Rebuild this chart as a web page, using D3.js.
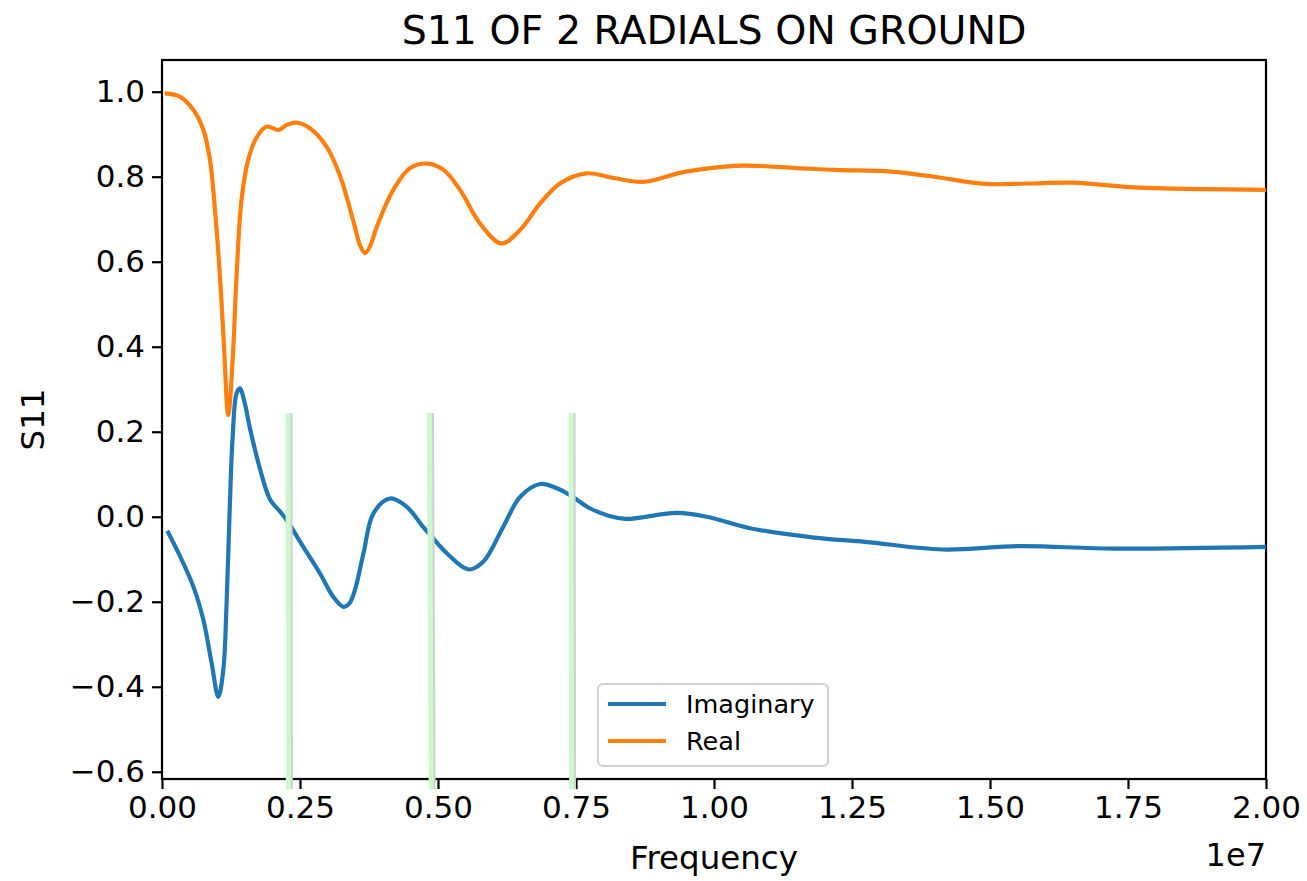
<!DOCTYPE html>
<html><head><meta charset="utf-8">
<script src="https://cdn.jsdelivr.net/npm/d3@7"></script>
<style>body{margin:0;background:#fff;} text{font-family:"DejaVu Sans",sans-serif;fill:#000;}</style>
</head><body>
<svg id="chart" width="1307" height="881"></svg>
<script>
// frequencies in units of 1e7 Hz (as on the axis)
const realFreq = [0.005,0.033,0.057,0.075,0.087,0.096,0.105,0.112,0.120,0.128,0.135,0.144,0.156,0.172,0.190,0.211,0.226,0.244,0.268,0.298,0.322,0.347,0.359,0.368,0.378,0.389,0.419,0.449,0.481,0.510,0.540,0.576,0.615,0.649,0.685,0.721,0.769,0.818,0.871,0.949,1.049,1.143,1.220,1.321,1.399,1.492,1.569,1.647,1.763,1.880,2.0];
const realVals = [0.996,0.988,0.957,0.910,0.839,0.722,0.565,0.409,0.239,0.369,0.565,0.745,0.839,0.894,0.918,0.910,0.922,0.927,0.914,0.871,0.804,0.694,0.638,0.620,0.640,0.682,0.769,0.820,0.831,0.816,0.769,0.690,0.643,0.675,0.737,0.784,0.808,0.797,0.788,0.812,0.826,0.821,0.816,0.812,0.800,0.783,0.784,0.786,0.775,0.771,0.769];
const imagFreq = [0.0096,0.033,0.057,0.075,0.090,0.102,0.111,0.117,0.123,0.128,0.135,0.141,0.150,0.159,0.178,0.196,0.214,0.229,0.256,0.286,0.310,0.329,0.340,0.350,0.365,0.383,0.413,0.443,0.473,0.486,0.516,0.555,0.582,0.618,0.649,0.685,0.715,0.739,0.775,0.810,0.840,0.933,0.987,1.065,1.181,1.274,1.414,1.554,1.724,2.0];
const imagVals = [-0.033,-0.094,-0.165,-0.243,-0.345,-0.424,-0.361,-0.204,0.032,0.188,0.290,0.302,0.267,0.210,0.110,0.040,0.012,-0.014,-0.071,-0.133,-0.188,-0.212,-0.203,-0.170,-0.086,0.008,0.043,0.024,-0.024,-0.043,-0.086,-0.124,-0.106,-0.024,0.047,0.077,0.067,0.051,0.020,0.002,-0.005,0.009,0.000,-0.027,-0.049,-0.059,-0.077,-0.069,-0.075,-0.071];
const markerFreqTop = [0.2283,0.4845,0.741];
const markerFreqBottom = [0.2290,0.4875,0.742];
const markerTop = 0.244, markerBottom = -0.641;
const xTicks = [0,0.25,0.5,0.75,1.0,1.25,1.5,1.75,2.0];
const yTicks = [-0.6,-0.4,-0.2,0.0,0.2,0.4,0.6,0.8,1.0];
const seriesNames = ["Imaginary","Real"];
const seriesColors = ["#1f77b4","#ff7f0e"];

const svg = d3.select("#chart");
const L=162, R=1266, T=60, B=779;
const x = d3.scaleLinear().domain([0,2]).range([L,R]);
const y = d3.scaleLinear().domain([-0.617,1.0746]).range([B,T]);

// axes
const xAxis = d3.axisBottom(x).tickValues(xTicks).tickFormat(d3.format(".2f")).tickSize(10).tickPadding(7);
const yAxis = d3.axisLeft(y).tickValues(yTicks).tickFormat(d=>d3.format(".1f")(d).replace("-","\u2212")).tickSize(10).tickPadding(7);
const gx = svg.append("g").attr("transform",`translate(0,${B})`).call(xAxis);
const gy = svg.append("g").attr("transform",`translate(${L},0)`).call(yAxis);
[gx,gy].forEach(g=>{
  g.select(".domain").remove();
  g.selectAll(".tick line").attr("stroke","#000").attr("stroke-width",2.2);
  g.selectAll(".tick text").attr("font-size",31).attr("font-family","DejaVu Sans").attr("fill","#000");
});

// frame
svg.append("rect").attr("x",L).attr("y",T).attr("width",R-L).attr("height",B-T)
  .attr("fill","none").attr("stroke","#000").attr("stroke-width",2.2);

const line = d3.line().x(d=>x(d[0])).y(d=>y(d[1])).curve(d3.curveCatmullRom.alpha(0.5));
const imag = imagFreq.map((f,i)=>[f,imagVals[i]]);
const real = realFreq.map((f,i)=>[f,realVals[i]]);
svg.append("path").datum(imag).attr("d",line).attr("fill","none").attr("stroke",seriesColors[0]).attr("stroke-width",4.2).attr("stroke-linejoin","round");
svg.append("path").datum(real).attr("d",line).attr("fill","none").attr("stroke",seriesColors[1]).attr("stroke-width",4.2).attr("stroke-linejoin","round");

// green marker lines
markerFreqTop.forEach((f,i)=>{
  svg.append("line").attr("x1",x(f)+1.5).attr("x2",x(markerFreqBottom[i])+1.5).attr("y1",y(markerTop)).attr("y2",y(markerBottom))
    .attr("stroke","#d0d0d0").attr("stroke-width",6);
  svg.append("line").attr("x1",x(f)).attr("x2",x(markerFreqBottom[i])).attr("y1",y(markerTop)).attr("y2",y(markerBottom))
    .attr("stroke","#ccf8cc").attr("stroke-width",5);
});

// legend
const lg = svg.append("g");
lg.append("rect").attr("x",598).attr("y",684).attr("width",230).attr("height",82).attr("rx",5)
  .attr("fill","#fff").attr("fill-opacity",0.8).attr("stroke","#d0d0d0").attr("stroke-width",2);
seriesNames.forEach((n,i)=>{
  const yy = 704 + i*37;
  lg.append("line").attr("x1",608).attr("x2",666).attr("y1",yy).attr("y2",yy).attr("stroke",seriesColors[i]).attr("stroke-width",4.2);
  lg.append("text").attr("x",686).attr("y",yy).attr("dy","0.35em").attr("font-size",25.5).text(n);
});

// labels
svg.append("text").attr("x",(L+R)/2).attr("y",44).attr("text-anchor","middle").attr("font-size",39.5).text("S11 OF 2 RADIALS ON GROUND");
svg.append("text").attr("x",(L+R)/2).attr("y",869).attr("text-anchor","middle").attr("font-size",32.5).text("Frequency");
svg.append("text").attr("transform",`translate(44,${(T+B)/2}) rotate(-90)`).attr("text-anchor","middle").attr("font-size",32.5).text("S11");
svg.append("text").attr("x",R).attr("y",866).attr("text-anchor","end").attr("font-size",32).text("1e7");
</script>
</body></html>
